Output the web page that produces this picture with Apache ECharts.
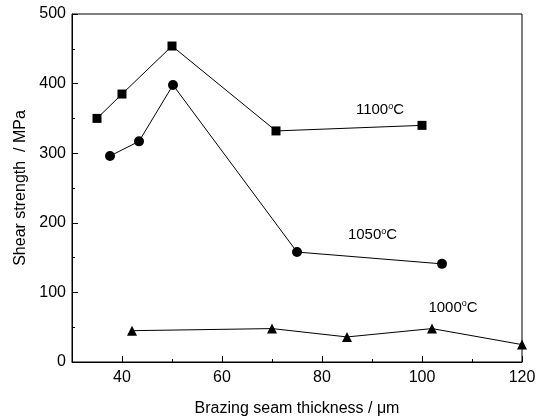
<!DOCTYPE html>
<html>
<head>
<meta charset="utf-8">
<script src="https://cdn.jsdelivr.net/npm/echarts@6/dist/echarts.min.js"></script>
<style>
  html, body { margin: 0; padding: 0; background: #fff; }
  #container { width: 536px; height: 419px; }
</style>
</head>
<body>
<div id="container"></div>
<script>
// data
var thick1100 = [35, 40, 50, 70.8, 100];
var shear1100 = [350, 385, 454, 332, 340];
var thick1050 = [37.6, 43.4, 50.2, 75, 104];
var shear1050 = [296, 317, 398, 158, 141];
var thick1000 = [42, 70, 85, 102, 120];
var shear1000 = [45, 48, 36, 48, 25];

var xLabels = [40, 60, 80, 100, 120];
var xMinor = [50, 70, 90, 110];

// curve captions, [x, y] in data units
var tempNames = ['1100', '1050', '1000'];
var tempPos = [[91.6, 362], [90.1, 182], [106.2, 78]];

function pairs(xs, ys) {
	var arr = [];
	for (var i = 0; i < xs.length; i++) {
		arr.push([xs[i], ys[i]]);
	}
	return arr;
}

function caption(i) {
	return {
		coord: tempPos[i],
		symbol: 'rect',
		symbolSize: 0,
		label: {
			show: true,
			position: 'inside',
			formatter: tempNames[i] + '{s|o}C',
			color: '#000',
			fontSize: 15,
			fontFamily: 'Liberation Sans',
			rich: {
				s: { fontSize: 9, verticalAlign: 'top', padding: [0, 0, 8, 0], color: '#000' }
			}
		}
	};
}

function makeSeries(name, xs, ys, symbol, size, cap) {
	return {
		name: name,
		type: 'line',
		data: pairs(xs, ys),
		symbol: symbol,
		symbolSize: size,
		showAllSymbol: true,
		lineStyle: { color: '#000', width: 1 },
		itemStyle: { color: '#000' },
		markPoint: { silent: true, data: [caption(cap)] },
		animation: false
	};
}

var dom = document.getElementById('container');
var myChart = echarts.init(dom);

var font = 'Liberation Sans';
var option = {
	backgroundColor: '#fff',
	grid: {
		left: 72, top: 14, right: 14, bottom: 57,
		outerBoundsMode: 'none',
		containLabel: false,
		show: true, borderColor: '#000', borderWidth: 1
	},
	xAxis: [
		{
			type: 'value',
			min: 30, max: 120,
			name: 'Brazing seam thickness / \u03bcm',
			nameLocation: 'middle',
			nameGap: 39,
			nameTextStyle: { color: '#000', fontSize: 16, fontFamily: font },
			axisLine: { lineStyle: { color: '#000', width: 1 } },
			axisTick: { inside: true, length: 6, customValues: xLabels, lineStyle: { color: '#000' } },
			axisLabel: { customValues: xLabels, color: '#000', fontSize: 16, fontFamily: font, margin: 8 },
			splitLine: { show: false }
		},
		{
			type: 'value',
			min: 30, max: 120,
			position: 'bottom',
			axisLine: { show: false },
			axisTick: { inside: true, length: 3, customValues: xMinor, lineStyle: { color: '#000' } },
			axisLabel: { show: false, customValues: xMinor },
			splitLine: { show: false }
		}
	],
	yAxis: {
		type: 'value',
		min: 0, max: 500, interval: 100,
		name: 'Shear strength  / MPa',
		nameLocation: 'middle',
		nameGap: 37,
		nameTextStyle: { color: '#000', fontSize: 16, fontFamily: font },
		axisLine: { show: true, lineStyle: { color: '#000', width: 1 } },
		axisTick: { show: true, inside: true, length: 6, lineStyle: { color: '#000' } },
		minorTick: { show: true, splitNumber: 2, length: 3, lineStyle: { color: '#000' } },
		axisLabel: { color: '#000', fontSize: 16, fontFamily: font, margin: 6 },
		splitLine: { show: false }
	},
	series: [
		makeSeries('1100', thick1100, shear1100, 'rect', 9, 0),
		makeSeries('1050', thick1050, shear1050, 'circle', 10, 1),
		makeSeries('1000', thick1000, shear1000, 'triangle', 10, 2)
	]
};

myChart.setOption(option);
</script>
</body>
</html>
